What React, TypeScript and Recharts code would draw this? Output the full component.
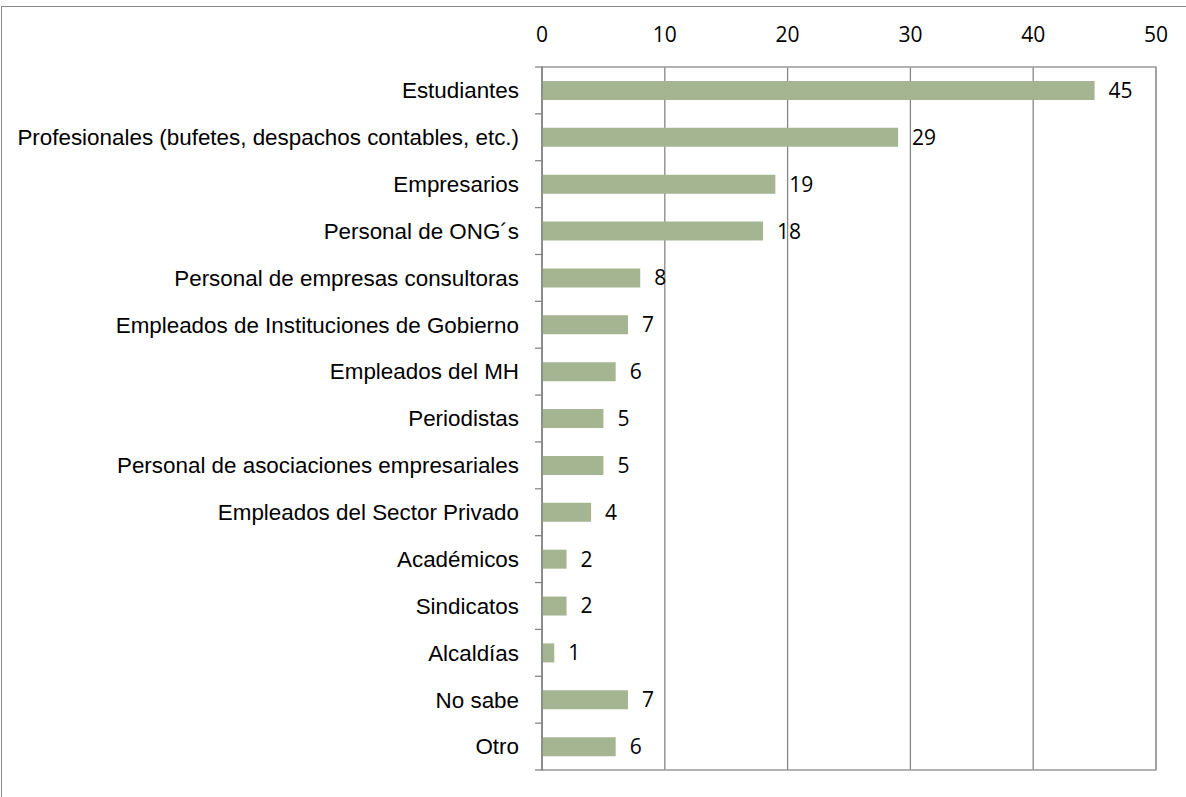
import { BarChart, Bar, XAxis, YAxis, CartesianGrid, ReferenceArea, LabelList } from "recharts";

const categorias = [
  "Estudiantes",
  "Profesionales (bufetes, despachos contables, etc.)",
  "Empresarios",
  "Personal de ONG´s",
  "Personal de empresas consultoras",
  "Empleados de Instituciones de Gobierno",
  "Empleados del MH",
  "Periodistas",
  "Personal de asociaciones empresariales",
  "Empleados del Sector Privado",
  "Académicos",
  "Sindicatos",
  "Alcaldías",
  "No sabe",
  "Otro",
];
const valores = [45, 29, 19, 18, 8, 7, 6, 5, 5, 4, 2, 2, 1, 7, 6];
const ticksX = [0, 10, 20, 30, 40, 50];

const data = categorias.map((c, i) => ({ categoria: c, valor: valores[i] }));

const W = 1186;
const H = 797;
const margin = { top: 37, right: 30, bottom: 27, left: 0 };
const banda = (H - 67 - margin.bottom) / categorias.length;

// etiqueta de categoría + marca pequeña en el límite de cada banda
const TickCategoria = ({ x, y, payload, index }: any) => (
  <g>
    <line x1={x + 23} x2={x + 31} y1={y - banda / 2} y2={y - banda / 2} stroke="#868686" strokeWidth={1.3} />
    {index === categorias.length - 1 && (
      <line x1={x + 23} x2={x + 31} y1={y + banda / 2} y2={y + banda / 2} stroke="#868686" strokeWidth={1.3} />
    )}
    <text x={x + 7} y={y} dy={7.8} textAnchor="end" fontFamily="'Liberation Sans', Arial, sans-serif" fontSize={22.4} fill="#000">
      {payload.value}
    </text>
  </g>
);

export default function App() {
  return (
    <div style={{ position: "absolute", left: 0, top: 0, width: W, height: H, background: "#fff" }}>
      <div
        style={{
          position: "absolute",
          left: 1,
          top: 6,
          right: -2,
          bottom: -2,
          borderTop: "1.5px solid #8a8a8a",
          borderLeft: "1.5px solid #8a8a8a",
        }}
      />
      <BarChart
        width={W}
        height={H}
        data={data}
        layout="vertical"
        margin={margin}
        barSize={19}
        style={{ position: "absolute", left: 0, top: 0 }}
      >
        <CartesianGrid horizontal={false} vertical stroke="#868686" strokeWidth={1.3} />
        <ReferenceArea x1={0} x2={50} fill="none" stroke="#9a9a9a" strokeWidth={1.3} ifOverflow="extendDomain" />
        <XAxis
          type="number"
          orientation="top"
          domain={[0, 50]}
          ticks={ticksX}
          axisLine={false}
          tickLine={false}
          tick={{ fontFamily: "'Open Sans', sans-serif", fontSize: 21, fill: "#000" }}
          dy={-17}
        />
        <YAxis
          type="category"
          dataKey="categoria"
          width={542}
          axisLine={{ stroke: "#868686", strokeWidth: 1.5 }}
          tickLine={false}
          tickMargin={24}
          interval={0}
          tick={<TickCategoria />}
        />
        <Bar dataKey="valor" fill="#A5B592" isAnimationActive={false}>
          <LabelList
            dataKey="valor"
            position="right"
            offset={14}
            style={{ fontFamily: "'Open Sans', sans-serif", fontSize: 21, fill: "#000" }}
          />
        </Bar>
      </BarChart>
    </div>
  );
}
